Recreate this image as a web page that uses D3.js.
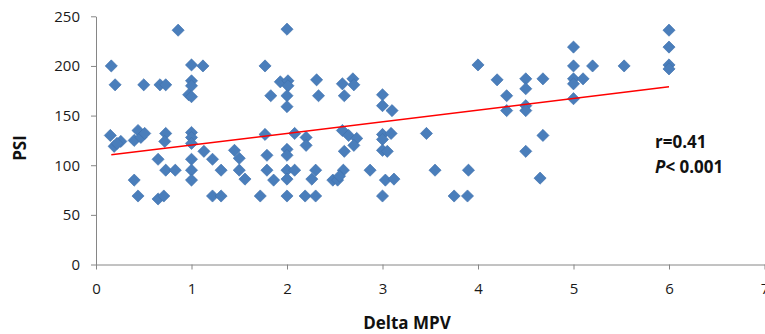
<!DOCTYPE html>
<html>
<head>
<meta charset="utf-8">
<script src="https://cdn.jsdelivr.net/npm/d3@7.9.0/dist/d3.min.js"></script>
<style>
  body { margin: 0; background: #fff; }
  svg { display: block; font-family: 'Open Sans', sans-serif; }
  .axis path, .axis line { stroke: #868686; }
  .axis text { font-size: 15px; fill: #1a1a1a; font-family: 'Open Sans', sans-serif; }
</style>
</head>
<body>
<div id="chart"></div>
<script>
// Delta MPV vs PSI
const deltaMpv = [
  0.86, 0.16, 0.20, 0.50, 0.67, 0.73, 1.00, 1.12, 1.00, 1.00, 0.97, 1.00,
  0.15, 0.19, 0.26, 0.22, 0.40, 0.44, 0.47, 0.51, 0.73, 0.72, 0.65, 0.73,
  0.83, 0.40, 0.44, 0.65, 0.71, 1.00, 1.00, 1.00, 1.00, 1.00, 1.00, 1.13,
  1.22, 1.22,
  2.00, 1.77, 1.93, 2.01, 2.01, 1.83, 2.00, 2.00, 2.31, 2.33, 1.77, 2.08,
  2.20, 2.20, 1.31, 1.31, 1.45, 1.50, 1.50, 1.56, 1.72, 1.79, 1.79, 1.86,
  2.00, 2.00, 2.00, 2.00, 2.00, 2.08, 2.19, 2.30, 2.30, 2.26,
  2.58, 2.69, 2.70, 2.60, 3.00, 3.00, 3.10, 2.58, 2.645, 2.73, 2.70, 2.60,
  3.00, 3.09, 3.00, 3.00, 3.05, 3.46, 3.55, 2.59, 2.48, 2.53, 2.55, 2.87,
  3.03, 3.12, 3.00,
  4.00, 4.20, 4.50, 4.68, 4.50, 4.30, 4.30, 4.50, 4.50, 4.68, 4.50, 4.65,
  3.90, 3.75, 3.89,
  5.00, 5.00, 5.20, 5.53, 5.00, 5.10, 5.00, 5.00, 6.00, 6.00, 6.00, 6.00
];
const psi = [
  236, 200, 181, 181, 181, 181, 201, 200, 185, 180, 171, 169,
  130, 119, 124, 122, 125, 135, 128, 132, 132, 124, 106, 95,
  95, 85, 69, 66, 69, 133, 128, 122, 106, 95, 85, 114,
  106, 69,
  237, 200, 184, 185, 180, 170, 170, 159, 186, 170, 131, 132,
  128, 120, 95, 69, 115, 107, 95, 86, 69, 110, 95, 85,
  116, 110, 95, 86, 69, 95, 69, 69, 95, 86,
  182, 187, 181, 170, 171, 160, 155, 135, 130, 127, 120, 114,
  131, 132, 126, 115, 114, 132, 95, 95, 85, 85, 89, 95,
  85, 86, 69,
  201, 186, 187, 187, 177, 170, 155, 160, 155, 130, 114, 87,
  95, 69, 69,
  219, 200, 200, 200, 187, 187, 182, 167, 236, 219, 201, 197
];

// regression line end points
const fitX = [0.16, 6.0];
const fitY = [110.5, 179];

const xTicks = [0, 1, 2, 3, 4, 5, 6, 7];
const yTicks = [0, 50, 100, 150, 200, 250];

const width = 765;
const height = 334;

const svg = d3.select('#chart')
  .append('svg')
  .attr('width', width)
  .attr('height', height);

const x = d3.scaleLinear().domain([0, 7]).range([96, 764.5]);
const y = d3.scaleLinear().domain([0, 250]).range([264.5, 16.3]);

svg.append('g')
  .attr('class', 'axis')
  .attr('transform', `translate(${x(0)},0)`)
  .call(d3.axisLeft(y).tickValues(yTicks).tickFormat(d3.format('d'))
    .tickSize(5).tickSizeOuter(0).tickPadding(11));

svg.append('g')
  .attr('class', 'axis')
  .attr('transform', `translate(0,${y(0)})`)
  .call(d3.axisBottom(x).tickValues(xTicks).tickFormat(d3.format('d'))
    .tickSize(5).tickSizeOuter(0).tickPadding(14));

const points = deltaMpv.map((d, i) => ({ x: d, y: psi[i] }));

const diamond = d3.symbol(d3.symbolSquare, 74);

svg.append('g')
  .selectAll('path')
  .data(points)
  .join('path')
  .attr('d', diamond)
  .attr('transform', (d) => `translate(${x(d.x)},${y(d.y)}) rotate(45)`)
  .attr('fill', '#4a7ebb')
  .attr('stroke', '#3f71ad')
  .attr('stroke-width', 0.6);

svg.append('path')
  .datum(fitX.map((d, i) => [d, fitY[i]]))
  .attr('d', d3.line().x((d) => x(d[0])).y((d) => y(d[1])))
  .attr('fill', 'none')
  .attr('stroke', '#ff0000')
  .attr('stroke-width', 1.5);

// annotation
const note = svg.append('g')
  .attr('font-size', 17)
  .attr('font-weight', 'bold')
  .attr('fill', '#111');
note.append('text').attr('x', 655).attr('y', 148).text('r=0.41');
const p = note.append('text').attr('x', 655).attr('y', 172.5);
p.append('tspan').attr('font-style', 'italic').text('P');
p.append('tspan').text('< 0.001');

// axis titles
svg.append('text')
  .attr('x', 407)
  .attr('y', 329)
  .attr('text-anchor', 'middle')
  .attr('font-size', 17)
  .attr('font-weight', 'bold')
  .attr('fill', '#111')
  .text('Delta MPV');

svg.append('text')
  .attr('transform', 'translate(26,148) rotate(-90)')
  .attr('text-anchor', 'middle')
  .attr('font-size', 17)
  .attr('font-weight', 'bold')
  .attr('fill', '#111')
  .text('PSI');
</script>
</body>
</html>
